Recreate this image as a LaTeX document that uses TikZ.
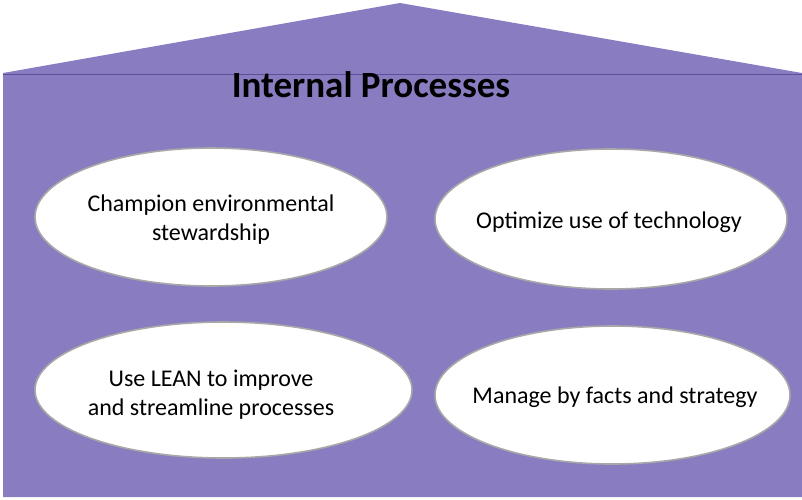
\documentclass[tikz,border=0pt]{standalone}
\usepackage{fontspec}
\setmainfont{Carlito}
\usetikzlibrary{shapes.geometric}
\definecolor{housefill}{HTML}{8A7CC0}
\definecolor{houseline}{HTML}{5E4E9A}
\definecolor{shadowgray}{HTML}{A8A8A8}
\tikzset{
  oval/.style={ellipse, fill=white, draw=shadowgray, line width=1.6pt, inner sep=0pt},
  ovaltext/.style={inner sep=0pt, align=center, font=\fontsize{24}{29}\selectfont},
  titletext/.style={font=\bfseries\fontsize{37}{42}\selectfont, inner sep=0pt}
}
\begin{document}
\begin{tikzpicture}[x=1pt,y=-1pt]
\useasboundingbox (0,0) rectangle (802,499);
\fill[housefill] (3,497) -- (3,73) -- (400,3) -- (802,73) -- (802,497) -- cycle;
\draw[houseline, line width=1pt] (3,74) -- (802,74);
\node[titletext] (title) at (371,85) {Internal Processes};
\node[oval, minimum width=352pt, minimum height=138pt] (champ) at (211,217) {};
\node[ovaltext] (champtext) at (211,220) {Champion environmental\\stewardship};
\node[oval, minimum width=352pt, minimum height=140pt] (optim) at (611,219) {};
\node[ovaltext] (optimtext) at (609,222) {Optimize use of technology};
\node[oval, minimum width=377pt, minimum height=136pt] (lean) at (223.5,390) {};
\node[ovaltext] (leantext) at (211,395) {Use LEAN to improve\\and streamline processes};
\node[oval, minimum width=355pt, minimum height=138pt] (manage) at (612.5,395) {};
\node[ovaltext] (managetext) at (615,397) {Manage by facts and strategy};
\end{tikzpicture}
\end{document}
